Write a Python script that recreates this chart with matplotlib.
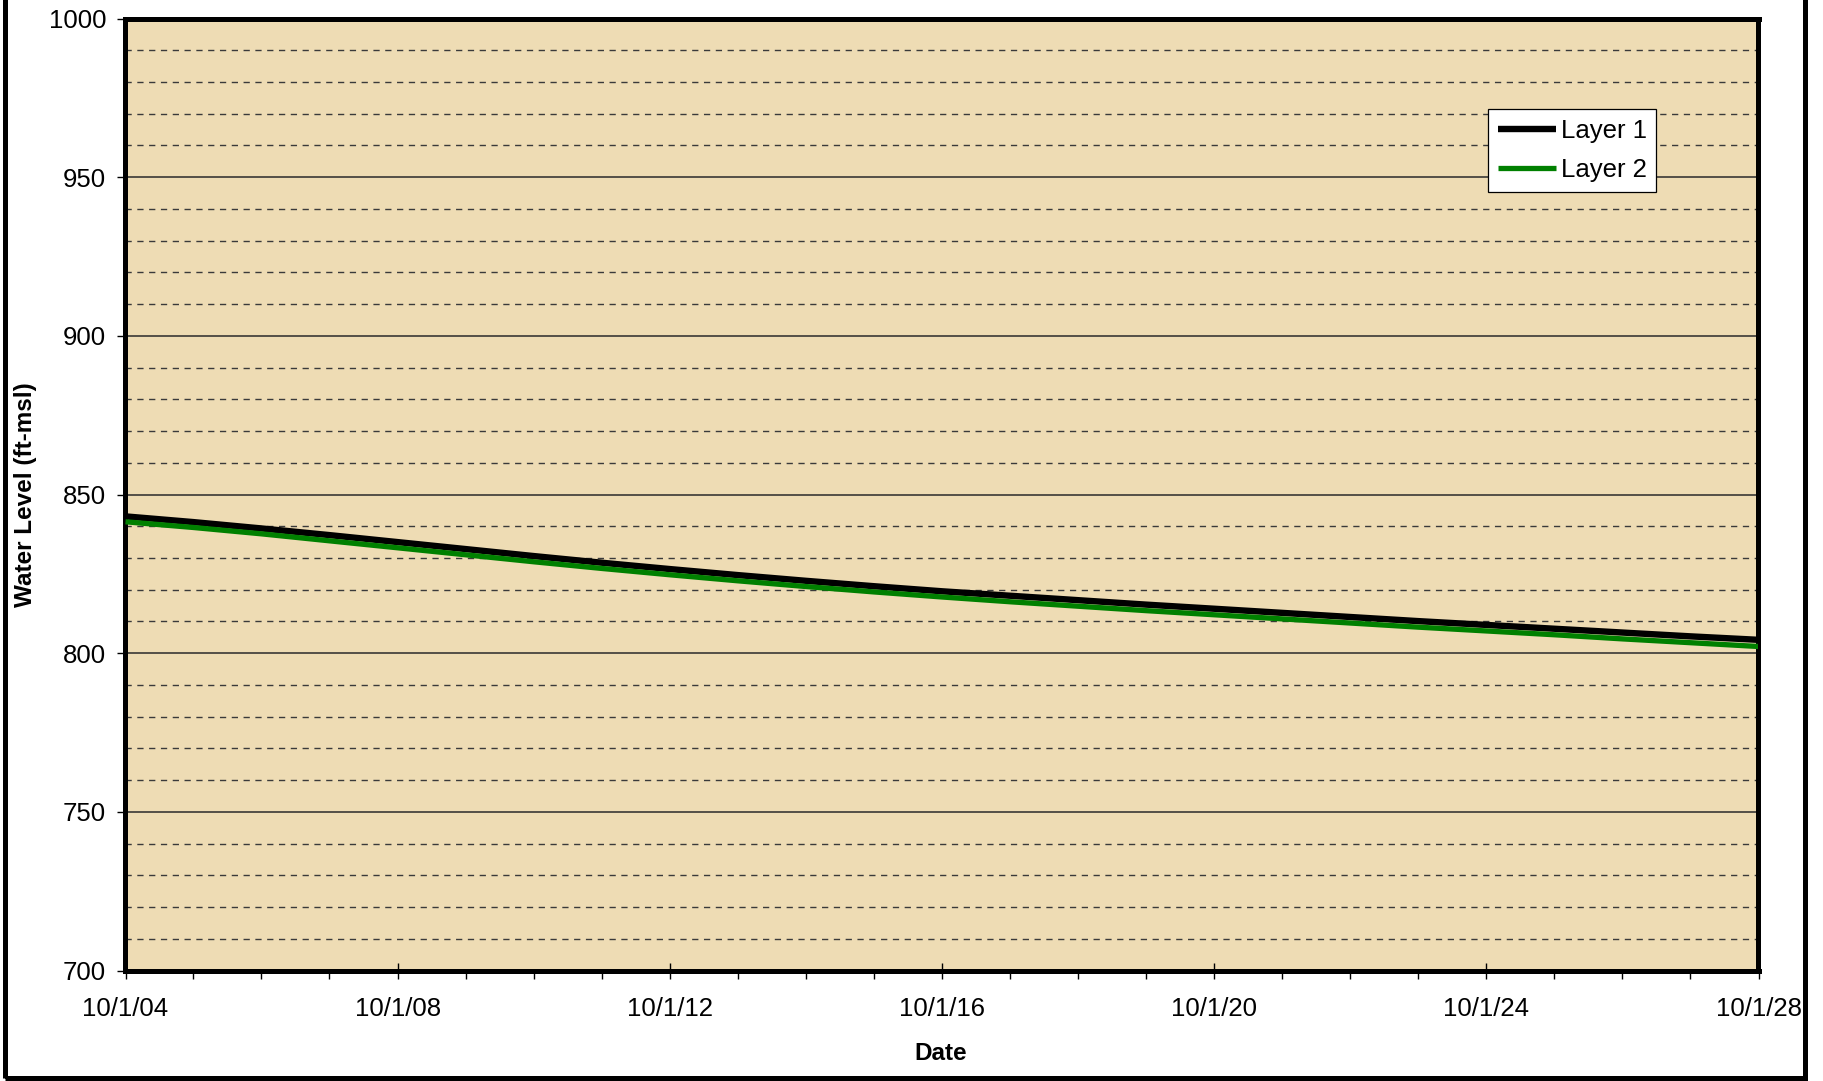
import matplotlib
matplotlib.use("Agg")
import matplotlib.pyplot as plt
import matplotlib.dates as mdates
from matplotlib.patches import Rectangle
from matplotlib.ticker import MultipleLocator
import datetime as dt

plt.rcParams['font.family'] = ['Liberation Sans', 'DejaVu Sans']

# ---- data ----
years = list(range(2004, 2029))
layer1 = [843.1, 841.3, 839.3, 837.2, 835.0, 832.8, 830.6, 828.5, 826.5, 824.6,
          822.8, 821.1, 819.5, 818.1, 816.7, 815.3, 814.0, 812.7, 811.4, 810.1,
          808.9, 807.7, 806.5, 805.3, 804.2]
layer2 = [841.4, 839.6, 837.6, 835.4, 833.2, 831.0, 828.8, 826.7, 824.7, 822.8,
          821.0, 819.3, 817.7, 816.2, 814.8, 813.4, 812.1, 810.8, 809.5, 808.2,
          807.0, 805.8, 804.5, 803.3, 802.1]
series_names = ["Layer 1", "Layer 2"]
series_colors = ["#000000", "#008000"]
x_tick_years = [2004, 2008, 2012, 2016, 2020, 2024, 2028]
y_min, y_max = 700, 1000

dates = [dt.date(y, 10, 1) for y in years]

W, H = 1824, 1081
fig = plt.figure(figsize=(W / 100, H / 100), dpi=100)
fig.patch.set_facecolor('white')

# axes position from pixel frame
l, r, t, b = 125.5, 1758.5, 18.5, 970.5
ax = fig.add_axes([l / W, 1 - b / H, (r - l) / W, (b - t) / H])
ax.set_facecolor('#EEDCB4')

ax.plot(dates, layer1, color=series_colors[0], lw=4.6, label=series_names[0],
        solid_capstyle='butt', zorder=4)
ax.plot(dates, layer2, color=series_colors[1], lw=3.8, label=series_names[1],
        solid_capstyle='butt', zorder=5)

ax.set_xlim(dt.date(2004, 10, 1), dt.date(2028, 10, 1))
ax.set_ylim(y_min, y_max)

# gridlines
ax.yaxis.set_major_locator(MultipleLocator(50))
ax.yaxis.set_minor_locator(MultipleLocator(10))
ax.grid(True, axis='y', which='major', color='#2a2a2a', lw=1.1, ls='-', zorder=1)
ax.grid(True, axis='y', which='minor', color='#3a3a3a', lw=1.0, ls=(0, (4.5, 4)), zorder=1)
ax.set_axisbelow(True)

# x ticks
ax.xaxis.set_minor_locator(mdates.YearLocator(base=1, month=10, day=1))
ax.set_xticks([dt.date(y, 10, 1) for y in x_tick_years])
ax.set_xticklabels([f"10/1/{y % 100:02d}" for y in x_tick_years])
ax.tick_params(axis='x', which='major', direction='inout', length=11.5, width=1.0,
               labelsize=18.5, pad=13, color='black')
ax.tick_params(axis='x', which='minor', direction='out', length=5.5, width=1.0, color='black')
ax.tick_params(axis='y', which='major', direction='out', length=6, width=1.0,
               labelsize=18.5, pad=8, color='black')
ax.tick_params(axis='y', which='minor', length=0)

for s in ax.spines.values():
    s.set_linewidth(3.6)
    s.set_color('black')

leg = ax.legend(loc='upper left', bbox_to_anchor=(1488 / W, 1 - 109 / H),
                bbox_transform=fig.transFigure, fontsize=18.5, frameon=True,
                fancybox=False, framealpha=1.0, edgecolor='black',
                handlelength=2.25, handletextpad=0.2, borderpad=0.38,
                labelspacing=0.6, borderaxespad=0)
leg.get_frame().set_linewidth(0.9)
leg.set_zorder(10)

fig.text(941 / W, 1 - 1053 / H, 'Date', ha='center', va='center',
         fontsize=17.5, fontweight='bold')
fig.text(26 / W, 1 - 495 / H, 'Water Level (ft-msl)', ha='center', va='center',
         rotation=90, fontsize=17.5, fontweight='bold')

# outer figure frame (top edge outside the image)
frame = Rectangle((5.5 / W, (H - 1077.5) / H), (1805.5 - 5.5) / W, 1.2,
                  transform=fig.transFigure, fill=False, lw=3.6,
                  edgecolor='black', clip_on=False)
fig.add_artist(frame)

fig.savefig('out.png', dpi=100, facecolor='white')
